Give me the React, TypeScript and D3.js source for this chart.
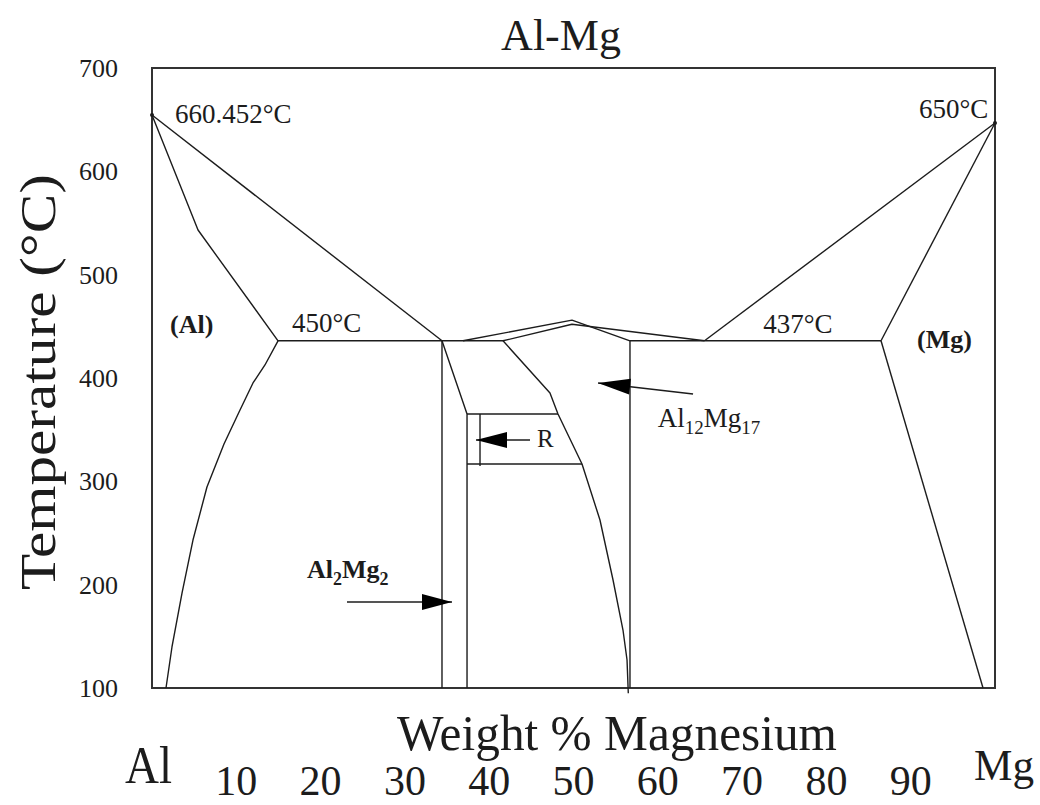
import React from "react";
import * as d3 from "d3";

// ---- data (wt% Mg, temperature in axis units) ----
const yTicks = [100, 200, 300, 400, 500, 600, 700];
const xTickLabels = [10, 20, 30, 40, 50, 60, 70, 80, 90];

type P = [number, number];

const alLiquidus: P[] = [[0, 654.5], [34.4, 436]];
const alSolidus: P[] = [[0, 654.5], [5.46, 543.2], [14.95, 436]];
const alSolvus: P[] = [
  [14.95, 436], [13.4, 412.6], [11.98, 395.2], [10.44, 369], [8.54, 336.1],
  [6.52, 294.5], [4.86, 243.2], [3.56, 191.9], [2.37, 139.7], [1.66, 100],
];
const eutectic450: P[] = [[14.95, 436], [41.64, 436]];
const betaLeft: P[] = [[34.4, 436], [34.4, 100]];
const betaRight: P[] = [[34.4, 436], [37.37, 365.2], [37.37, 100]];
const rTop: P[] = [[37.37, 365.2], [48.16, 365.2]];
const rBottom: P[] = [[37.37, 316.8], [51.01, 316.8]];
const rLeft: P[] = [[38.91, 365.2], [38.91, 314.8]];
const upperLiquidusA: P[] = [[36.89, 436], [49.82, 456], [56.7, 436]];
const upperLiquidusB: P[] = [[41.64, 436], [49.82, 452], [65.54, 436]];
const betaSolvus: P[] = [
  [41.64, 436], [47.21, 385.5], [48.16, 365.2], [51.01, 316.8], [53.14, 262.6],
  [54.69, 204.5], [55.87, 156.1], [56.35, 127.1], [56.5, 95],
];
const gammaLeft: P[] = [[56.7, 436], [56.7, 100]];
const eutectic437: P[] = [[56.7, 436], [86.48, 436]];
const mgLiquidus: P[] = [[100, 646.8], [65.54, 436]];
const mgSolidus: P[] = [[100, 646.8], [86.48, 436]];
const mgSolvus: P[] = [[86.48, 436], [98.58, 100]];

const boundaries: P[][] = [
  alLiquidus, alSolidus, alSolvus, eutectic450, betaLeft, betaRight, rTop, rBottom,
  rLeft, upperLiquidusA, upperLiquidusB, betaSolvus, gammaLeft, eutectic437,
  mgLiquidus, mgSolidus, mgSolvus,
];

const meltPoints: P[] = [[0, 654.5], [100, 646.8]];

// arrows: tail, tip, arrowhead base (x in wt%)
const arrows = [
  { tail: [23.13, 183.2] as P, tip: [35.59, 183.2] as P, baseX: 32.03 },
  { tail: [44.84, 340] as P, tip: [38.43, 340] as P, baseX: 42.11 },
  { tail: [64.18, 384.5] as P, tip: [52.91, 395.2] as P, baseX: 56.7 },
];

const W = 1040;
const H = 805;
const x = d3.scaleLinear().domain([0, 100]).range([152, 995]);
const y = d3.scaleLinear().domain([100, 700]).range([688, 68]);
const line = d3.line<P>().x((d) => x(d[0])).y((d) => y(d[1]));

const FONT = "'Liberation Serif', 'Times New Roman', serif";
const INK = "#1c1c1c";

function arrowHead(a: { tail: P; tip: P; baseX: number }) {
  const tx = x(a.tip[0]), ty = y(a.tip[1]);
  const sx = x(a.tail[0]), sy = y(a.tail[1]);
  const len = Math.hypot(tx - sx, ty - sy);
  const ux = (tx - sx) / len, uy = (ty - sy) / len;
  const hl = Math.abs(x(a.baseX) - tx) / Math.abs(ux || 1);
  const bx = tx - ux * hl, by = ty - uy * hl;
  const nx = -uy * 8, ny = ux * 8;
  return `M${tx},${ty}L${bx + nx},${by + ny}L${bx - nx},${by - ny}Z`;
}

export default function App() {
  return (
    <svg
      width={W}
      height={H}
      style={{ position: "absolute", left: 0, top: 0, background: "#fff" }}
      fontFamily={FONT}
    >
      <rect x={0} y={0} width={W} height={H} fill="#fff" />
      {/* title */}
      <text x={561} y={50} fontSize={44} textAnchor="middle" fill={INK}>Al-Mg</text>

      {/* frame */}
      <rect
        x={x(0)} y={y(700)} width={x(100) - x(0)} height={y(100) - y(700)}
        fill="none" stroke="#333" strokeWidth={2}
      />

      {/* y tick labels */}
      {yTicks.map((t) => (
        <text key={t} x={118} y={y(t) + 9} fontSize={26} textAnchor="end" fill={INK}>{t}</text>
      ))}

      {/* y axis title */}
      <text
        transform={`translate(55,${382}) rotate(-90)`}
        fontSize={50} textAnchor="middle" textLength={416} lengthAdjust="spacingAndGlyphs"
        fill={INK}
      >Temperature (°C)</text>

      {/* phase boundaries */}
      {boundaries.map((b, i) => (
        <path key={i} d={line(b) || ""} fill="none" stroke={INK} strokeWidth={1.4} strokeLinejoin="round" />
      ))}
      {meltPoints.map((p, i) => (
        <circle key={i} cx={x(p[0])} cy={y(p[1])} r={2} fill={INK} />
      ))}

      {/* arrows */}
      {arrows.map((a, i) => (
        <g key={i}>
          <line x1={x(a.tail[0])} y1={y(a.tail[1])} x2={x(a.tip[0])} y2={y(a.tip[1])} stroke={INK} strokeWidth={1.6} />
          <path d={arrowHead(a)} fill="#000" />
        </g>
      ))}

      {/* in-plot labels */}
      <g fill={INK} fontSize={27}>
        <text x={x(2.73)} y={y(646.8)}>660.452°C</text>
        <text x={x(99.2)} y={y(651.6)} textAnchor="end">650°C</text>
        <text x={x(2.14)} y={y(443.5)} fontWeight="bold" fontSize={26}>(Al)</text>
        <text x={x(16.6)} y={y(444.5)}>450°C</text>
        <text x={x(72.5)} y={y(443.5)}>437°C</text>
        <text x={x(90.75)} y={y(429)} fontWeight="bold" fontSize={26}>(Mg)</text>
        <text x={x(45.67)} y={y(333.2)} fontSize={25}>R</text>
        <text x={x(60.0)} y={y(352.6)} fontSize={27}>
          Al<tspan fontSize={19} dy={7}>12</tspan>
          <tspan dy={-7}>Mg</tspan>
          <tspan fontSize={19} dy={7}>17</tspan>
        </text>
        <text x={x(18.39)} y={y(206.5)} fontSize={26} fontWeight="bold">
          Al<tspan fontSize={18} dy={7}>2</tspan>
          <tspan dy={-7}>Mg</tspan>
          <tspan fontSize={18} dy={7}>2</tspan>
        </text>
      </g>

      {/* x axis titles */}
      <text x={397} y={750} fontSize={50} textLength={440} lengthAdjust="spacingAndGlyphs" fill={INK}>
        Weight % Magnesium
      </text>
      <text x={125} y={783} fontSize={52} textLength={47} lengthAdjust="spacingAndGlyphs" fill={INK}>Al</text>
      <text x={974} y={780} fontSize={45} textLength={60} lengthAdjust="spacingAndGlyphs" fill={INK}>Mg</text>
      {xTickLabels.map((t) => (
        <text key={t} x={x(t)} y={795} fontSize={42} textAnchor="middle" fill={INK}>{t}</text>
      ))}
    </svg>
  );
}
